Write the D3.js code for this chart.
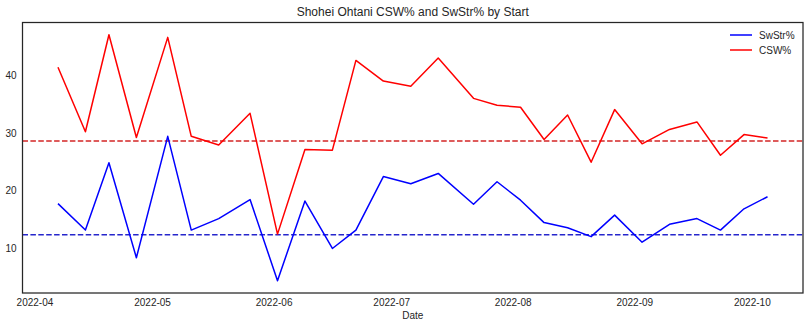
<!DOCTYPE html>
<html>
<head>
<meta charset="utf-8">
<script src="https://cdn.jsdelivr.net/npm/d3@7"></script>
<style>
  html, body { margin: 0; padding: 0; background: #fff; }
  svg { display: block; font-family: "Liberation Sans", Arial, sans-serif; }
</style>
</head>
<body>
<svg id="chart" width="810" height="328"></svg>
<script>
const dates = ["2022-04-07","2022-04-14","2022-04-20","2022-04-27","2022-05-05","2022-05-11","2022-05-18","2022-05-26",
  "2022-06-02","2022-06-09","2022-06-16","2022-06-22","2022-06-29","2022-07-06","2022-07-13","2022-07-22",
  "2022-07-28","2022-08-03","2022-08-09","2022-08-15","2022-08-21","2022-08-27","2022-09-03","2022-09-10",
  "2022-09-17","2022-09-23","2022-09-29","2022-10-05"];
const swstr = [17.7, 13.1, 24.8, 8.3, 29.4, 13.1, 15.1, 18.4,
  4.3, 18.15, 9.9, 13.1, 22.4, 21.15, 22.95, 17.6,
  21.5, 18.3, 14.4, 13.5, 11.96, 15.7, 11.0, 14.1,
  15.1, 13.1, 16.8, 18.9];
const csw = [41.4, 30.2, 47.05, 29.2, 46.6, 29.4, 27.9, 33.4,
  12.4, 27.1, 27.0, 42.6, 39.0, 38.1, 43.0, 36.0,
  34.8, 34.45, 28.85, 33.1, 24.9, 34.05, 28.1, 30.6,
  31.9, 26.1, 29.7, 29.1];
const swstrAvg = 12.3;
const cswAvg = 28.6;
const yTicks = [10, 20, 30, 40];
const xTickMonths = ["2022-04-01","2022-05-01","2022-06-01","2022-07-01","2022-08-01","2022-09-01","2022-10-01"];
const title = "Shohei Ohtani CSW% and SwStr% by Start";
const xLabel = "Date";
const seriesNames = ["SwStr%", "CSW%"];
const seriesColors = ["blue", "red"];
const avgColors = ["#2626cc", "#d42626"];

(function () {
const parse = d3.utcParse("%Y-%m-%d");
const dts = dates.map(parse);
const mL = 22.5, mR = 803, mT = 22.5, mB = 293;

const svg = d3.select("#chart");
const ink = "#262626";

const xExt = d3.extent(dts);
const xPad = (xExt[1] - xExt[0]) * 0.05;
const x = d3.scaleUtc().domain([new Date(+xExt[0] - xPad), new Date(+xExt[1] + xPad)]).range([mL, mR]);
const allV = swstr.concat(csw);
const yExt = d3.extent(allV);
const yPad = (yExt[1] - yExt[0]) * 0.05;
const y = d3.scaleLinear().domain([yExt[0] - yPad, yExt[1] + yPad]).range([mB, mT]);

// average lines
[swstrAvg, cswAvg].forEach((v, k) => {
  svg.append("line")
    .attr("x1", mL).attr("x2", mR)
    .attr("y1", y(v)).attr("y2", y(v))
    .attr("stroke", avgColors[k])
    .attr("stroke-width", 1.5).attr("stroke-dasharray", "5.5,2.4");
});

const line = d3.line().x((d, i) => x(dts[i])).y(d => y(d));
[swstr, csw].forEach((s, k) => {
  svg.append("path").datum(s)
    .attr("d", line)
    .attr("fill", "none")
    .attr("stroke", seriesColors[k])
    .attr("stroke-width", 1.5)
    .attr("stroke-linejoin", "round");
});

// axes
const xAxis = d3.axisBottom(x).tickValues(xTickMonths.map(parse)).tickFormat(d3.utcFormat("%Y-%m")).tickSize(0).tickPadding(6);
const gx = svg.append("g").attr("transform", `translate(0,${mB})`).call(xAxis);
gx.select(".domain").remove();
gx.selectAll("text").attr("font-size", 10).attr("fill", ink).attr("font-family", "Liberation Sans, Arial, sans-serif");

const yAxis = d3.axisLeft(y).tickValues(yTicks).tickSize(0).tickPadding(6);
const gy = svg.append("g").attr("transform", `translate(${mL},0)`).call(yAxis);
gy.select(".domain").remove();
gy.selectAll("text").attr("font-size", 10).attr("fill", ink).attr("font-family", "Liberation Sans, Arial, sans-serif");

// frame
svg.append("rect")
  .attr("x", mL).attr("y", mT)
  .attr("width", mR - mL).attr("height", mB - mT)
  .attr("fill", "none").attr("stroke", ink).attr("stroke-width", 1.25);

// title
svg.append("text").attr("x", (mL + mR) / 2).attr("y", 16)
  .attr("text-anchor", "middle").attr("font-size", 12).attr("fill", ink).text(title);

svg.append("text").attr("x", (mL + mR) / 2).attr("y", 319)
  .attr("text-anchor", "middle").attr("font-size", 10).attr("fill", ink).text(xLabel);

// legend
seriesNames.forEach((n, i) => {
  const ly = 35 + i * 15;
  svg.append("line").attr("x1", 730).attr("x2", 752).attr("y1", ly).attr("y2", ly)
    .attr("stroke", seriesColors[i]).attr("stroke-width", 1.5);
  svg.append("text").attr("x", 759).attr("y", ly).attr("dy", "0.35em")
    .attr("font-size", 10).attr("fill", ink).text(n);
});
})();
</script>
</body>
</html>
